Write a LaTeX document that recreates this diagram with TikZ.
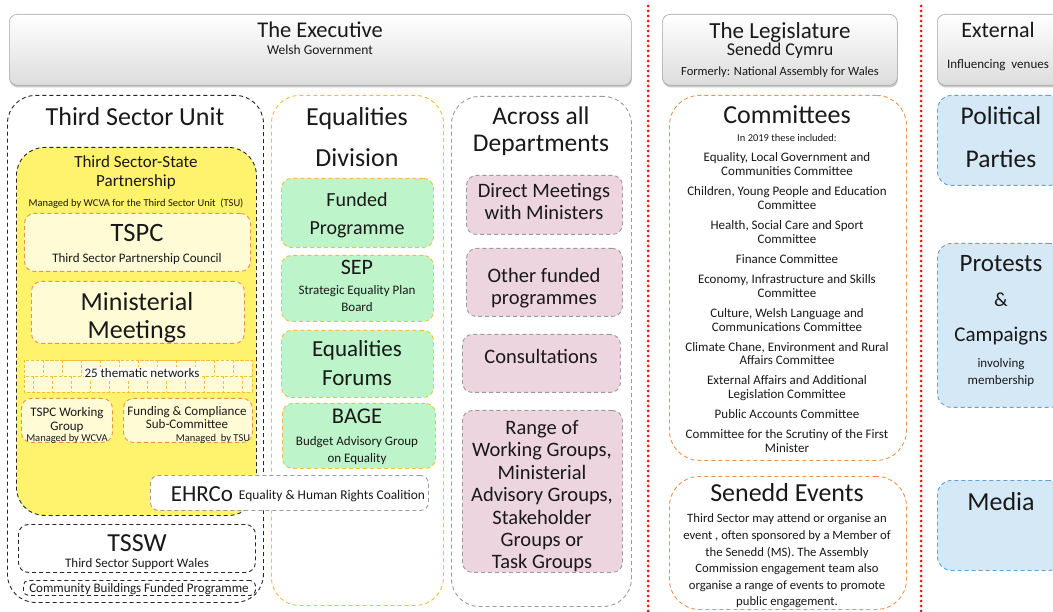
\documentclass[tikz,border=0pt]{standalone}
\usepackage{fontspec}
\setmainfont{Carlito}
\usetikzlibrary{shadows}

\definecolor{tsyellow}{HTML}{FFF26C}
\definecolor{paleyel}{HTML}{FFFBD5}
\definecolor{orng}{HTML}{F0914A}
\definecolor{gold}{HTML}{F4BE3A}
\definecolor{mint}{HTML}{BDF4C9}
\definecolor{rose}{HTML}{EDD5DF}
\definecolor{dgray}{HTML}{9A9A9A}
\definecolor{skyfill}{HTML}{D5E8F6}
\definecolor{skyline}{HTML}{5FA2D8}
\definecolor{dotred}{HTML}{F01010}

\tikzset{
  boxbase/.style={anchor=north west, inner sep=0pt, line width=0.9pt,
    dash pattern=on 4pt off 3pt},
  topbox/.style={anchor=north west, inner sep=0pt, draw=gray!70, line width=0.6pt,
    rounded corners=8pt, top color=white, bottom color=gray!27,
    drop shadow={shadow xshift=0.6pt, shadow yshift=-2.2pt, fill=gray!70, opacity=0.6}},
  blackframe/.style={boxbase, draw=black!85, rounded corners=28pt},
  tsspbox/.style={boxbase, draw=black!85, fill=tsyellow, rounded corners=28pt},
  innerbox/.style={boxbase, draw=orng, fill=paleyel, rounded corners=10pt},
  goldframe/.style={boxbase, draw=gold, rounded corners=28pt},
  greenbox/.style={boxbase, draw=gold, fill=mint, rounded corners=10pt},
  grayframe/.style={boxbase, draw=dgray, rounded corners=28pt},
  pinkbox/.style={boxbase, draw=dgray, fill=rose, rounded corners=10pt},
  orangeframe/.style={boxbase, draw=orng, rounded corners=30pt},
  bluebox/.style={boxbase, draw=skyline, fill=skyfill, rounded corners=14pt},
  whitebox/.style={boxbase, draw=dgray, fill=white, rounded corners=8pt},
  plainframe/.style={boxbase, draw=black!85, rounded corners=10pt},
  cell/.style={draw=gold, line width=0.8pt, dash pattern=on 3pt off 2pt, fill=paleyel},
  reddots/.style={draw=dotred, line width=3pt, line cap=round, dash pattern=on 0pt off 5pt},
  txt/.style={inner sep=0pt, anchor=base, text=black!90},
}

% box: name, style, left, top, width, height
\newcommand\bx[6]{\node[#2, minimum width=#5pt, minimum height=#6pt] (#1) at (#3,#4) {};}
% text line centred on (x,y): size, name, x, y, text
\newcommand\tx[5]{\node[txt, font=\fontsize{#1}{#1}\selectfont] (#2) at (#3,{#4+0.35*#1}) {#5};}

\begin{document}
\begin{tikzpicture}[x=1pt, y=-1pt]
\useasboundingbox (0,0) rectangle (1053,612);
\fill[white] (0,0) rectangle (1053,612);

% ---------- column headers
\bx{exec}{topbox}{9}{14}{622}{71}
\bx{legis}{topbox}{662}{14}{235}{71}
\bx{extn}{topbox}{937}{14}{126}{71}
\tx{22.5}{exT}{320}{30}{The Executive}
\tx{13.5}{exS}{320}{50}{Welsh Government}
\tx{23}{lgT}{780}{30}{The Legislature}
\tx{18}{lgS}{780}{49}{Senedd Cymru}
\tx{12.5}{lgF}{780}{71}{Formerly: National Assembly for Wales}
\tx{22}{xtT}{998}{30}{External}
\tx{13}{xtS}{998}{64}{Influencing\ \ venues}

% ---------- separators
\coordinate (sepA1) at (648,6);  \coordinate (sepA2) at (648,612);
\coordinate (sepB1) at (921,6);  \coordinate (sepB2) at (921,612);
\draw[reddots] (sepA1) -- (sepA2);
\draw[reddots] (sepB1) -- (sepB2);

% ---------- Third Sector Unit
\bx{tsu}{blackframe}{7}{95}{256}{507}
\tx{26}{tsuT}{135}{116}{Third Sector Unit}
\bx{tssp}{tsspbox}{16}{147}{240}{368}
\tx{17}{tsp1}{136}{162}{Third Sector-State}
\tx{17}{tsp2}{136}{181}{Partnership}
\tx{10.5}{tsp3}{136}{203}{Managed by WCVA for the Third Sector Unit\ \ (TSU)}
\bx{tspc}{innerbox}{24}{213}{226}{58}
\tx{26.5}{tspcT}{137}{232}{TSPC}
\tx{13}{tspcS}{137}{258}{Third Sector Partnership Council}
\bx{mm}{innerbox}{31}{281}{213}{62}
\tx{26}{mm1}{137}{301}{Ministerial}
\tx{26}{mm2}{137}{329}{Meetings}

% thematic network grid
\begin{scope}
  \clip (24,360) rectangle (252,392);
  \foreach \i in {0,...,12}{
    \draw[cell] (24+19*\i,360) rectangle ++(19,16);
    \draw[cell] (14+19*\i,376) rectangle ++(19,16);
  }
\end{scope}
\draw[cell, fill=none] (24,360) rectangle (252,392);
\node[inner sep=1pt, fill=white!80!paleyel, text=black!90,
      font=\fontsize{13}{13}\selectfont, anchor=base] (thm) at (142,377.5) {25 thematic networks};

\bx{wg}{innerbox}{21}{398}{91}{44}
\tx{13}{wg1}{67}{412}{TSPC Working}
\tx{13}{wg2}{67}{426}{Group}
\tx{10.5}{wg3}{67}{438}{Managed by WCVA}
\bx{fc}{innerbox}{123}{398}{129}{44}
\tx{13}{fc1}{187}{411}{Funding \& Compliance}
\tx{13}{fc2}{187}{424}{Sub-Committee}
\tx{10.5}{fc3}{213}{438}{Managed\ \ by TSU}

\bx{tssw}{plainframe}{18}{524}{237}{48}
\tx{26}{tsswT}{137}{542}{TSSW}
\tx{13}{tsswS}{137}{563}{Third Sector Support Wales}
\bx{cb}{plainframe, rounded corners=5pt}{23}{580}{232}{15}
\tx{13}{cbT}{139}{588}{Community Buildings Funded Programme}

% ---------- Equalities Division
\bx{ed}{goldframe}{271}{95}{172}{510}
\tx{26}{edT1}{357}{116}{Equalities}
\tx{26}{edT2}{357}{157}{Division}
\bx{fp}{greenbox}{281}{178}{152}{69}
\tx{20}{fp1}{357}{200}{Funded}
\tx{20}{fp2}{357}{228}{Programme}
\bx{sep}{greenbox}{281}{255}{152}{66}
\tx{22}{sep1}{357}{267}{SEP}
\tx{13}{sep2}{357}{290}{Strategic Equality Plan}
\tx{13}{sep3}{357}{307}{Board}
\bx{ef}{greenbox}{281}{330}{152}{67}
\tx{23}{ef1}{357}{348}{Equalities}
\tx{23}{ef2}{357}{377}{Forums}
\bx{bage}{greenbox}{282}{403}{153}{65}
\tx{22.5}{bg1}{357}{416}{BAGE}
\tx{13}{bg2}{357}{441}{Budget Advisory Group}
\tx{13}{bg3}{357}{458}{on Equality}

% ---------- EHRCo, spanning the two columns
\bx{ehrco}{whitebox}{150}{475}{278}{35}
\tx{23}{ehT}{202}{493}{EHRCo}
\tx{13.4}{ehS}{332}{495}{Equality \& Human Rights Coalition}

% ---------- Across all Departments
\bx{ad}{grayframe}{451}{96}{180}{510}
\tx{25.5}{ad1}{541}{116}{Across all}
\tx{25.5}{ad2}{541}{143}{Departments}
\bx{dm}{pinkbox}{466}{175}{156}{59}
\tx{20.5}{dm1}{544}{190}{Direct Meetings}
\tx{20.5}{dm2}{544}{212}{with Ministers}
\bx{of}{pinkbox}{466}{248}{156}{68}
\tx{20.5}{of1}{544}{275}{Other funded}
\tx{20.5}{of2}{544}{297}{programmes}
\bx{cs}{pinkbox}{462}{334}{158}{58}
\tx{20.5}{cs1}{541}{356}{Consultations}
\bx{rg}{pinkbox}{462}{410}{160}{162}
\tx{20.5}{rg1}{542}{427}{Range of}
\tx{20.5}{rg2}{542}{449}{Working Groups,}
\tx{20.5}{rg3}{542}{472}{Ministerial}
\tx{20.5}{rg4}{542}{494}{Advisory Groups,}
\tx{20.5}{rg5}{542}{517}{Stakeholder}
\tx{20.5}{rg6}{542}{539}{Groups or}
\tx{20.5}{rg7}{542}{561}{Task Groups}

% ---------- Committees
\bx{cm}{orangeframe}{669}{95}{237}{365}
\tx{26}{cmT}{787}{114}{Committees}
\tx{10.5}{cmS}{787}{138}{In 2019 these included:}
\tx{13}{c1a}{787}{157}{Equality, Local Government and}
\tx{13}{c1b}{787}{171}{Communities Committee}
\tx{13}{c2a}{787}{191}{Children, Young People and Education}
\tx{13}{c2b}{787}{205}{Committee}
\tx{13}{c3a}{787}{225}{Health, Social Care and Sport}
\tx{13}{c3b}{787}{239}{Committee}
\tx{13}{c4a}{787}{259}{Finance Committee}
\tx{13}{c5a}{787}{279}{Economy, Infrastructure and Skills}
\tx{13}{c5b}{787}{293}{Committee}
\tx{13}{c6a}{787}{313}{Culture, Welsh Language and}
\tx{13}{c6b}{787}{327}{Communications Committee}
\tx{13}{c7a}{787}{347}{Climate Chane, Environment and Rural}
\tx{13}{c7b}{787}{360}{Affairs Committee}
\tx{13}{c8a}{787}{380}{External Affairs and Additional}
\tx{13}{c8b}{787}{394}{Legislation Committee}
\tx{13}{c9a}{787}{414}{Public Accounts Committee}
\tx{13}{c10a}{787}{434}{Committee for the Scrutiny of the First}
\tx{13}{c10b}{787}{448}{Minister}

% ---------- Senedd Events
\bx{se}{orangeframe}{669}{476}{237}{133}
\tx{26}{seT}{787}{492}{Senedd Events}
\tx{12.7}{se1}{787}{518}{Third Sector may attend or organise an}
\tx{12.7}{se2}{787}{535}{event , often sponsored by a Member of}
\tx{12.7}{se3}{787}{552}{the Senedd (MS). The Assembly}
\tx{12.7}{se4}{787}{568}{Commission engagement team also}
\tx{12.7}{se5}{787}{585}{organise a range of events to promote}
\tx{12.7}{se6}{787}{601}{public engagement.}

% ---------- External venues
\bx{pp}{bluebox}{937}{95}{126}{90}
\tx{25.5}{pp1}{1001}{116}{Political}
\tx{25.5}{pp2}{1001}{159}{Parties}
\bx{pr}{bluebox}{937}{243}{126}{164}
\tx{25}{pr1}{1001}{263}{Protests}
\tx{20}{pr2}{1001}{300}{\&}
\tx{21}{pr3}{1001}{334}{Campaigns}
\tx{13}{pr4}{1001}{363}{involving}
\tx{13}{pr5}{1001}{380}{membership}
\bx{md}{bluebox}{937}{480}{126}{90}
\tx{26}{md1}{1001}{501}{Media}
\end{tikzpicture}
\end{document}
